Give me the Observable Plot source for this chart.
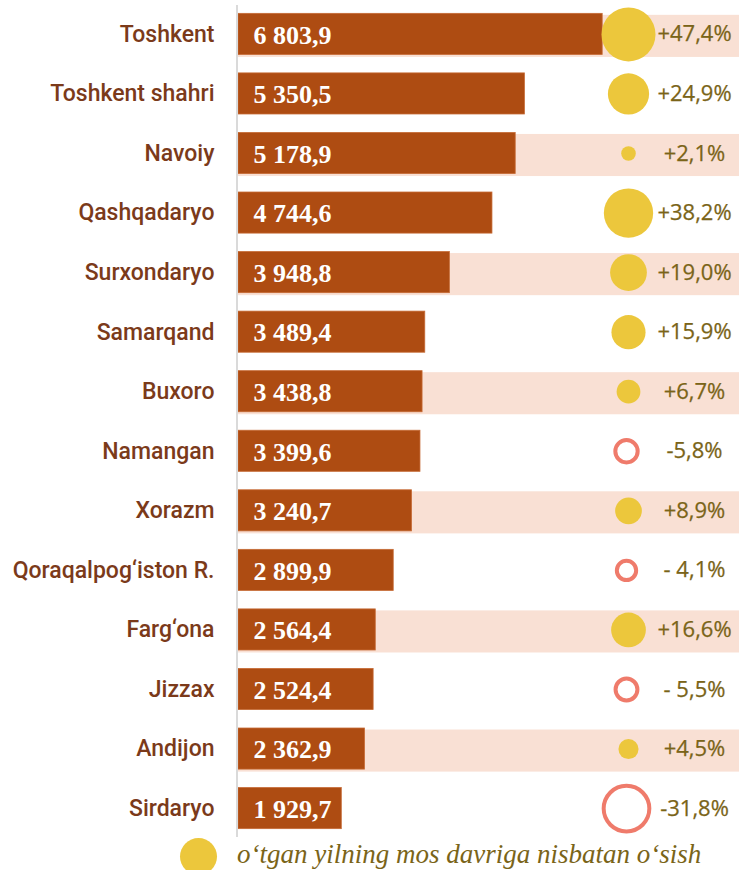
<!DOCTYPE html>
<html>
<head>
<meta charset="utf-8">
<script src="https://cdn.jsdelivr.net/npm/d3@7"></script>
<script src="https://cdn.jsdelivr.net/npm/@observablehq/plot@0.6"></script>
<style>
  html, body { margin: 0; padding: 0; background: #ffffff; }
  #wrap { position: relative; width: 739px; height: 870px; overflow: hidden; }
  #chart svg { display: block; }
  #legend { position: absolute; left: 0; top: 836px; width: 739px; height: 40px; }
  #legend .dot { position: absolute; left: 180px; top: 2px; width: 37px; height: 37px; border-radius: 50%; background: #ecc73c; }
  #legend .txt { position: absolute; left: 237px; top: 2px; font-family: "Liberation Serif", serif; font-style: italic; font-size: 27px; line-height: 32px; color: #7a6418; white-space: nowrap; }
</style>
</head>
<body>
<div id="wrap">
  <div id="chart"></div>
  <div id="legend"><span class="dot"></span><span class="txt">o‘tgan yilning mos davriga nisbatan o‘sish</span></div>
</div>
<script>
const regions = ["Toshkent", "Toshkent shahri", "Navoiy", "Qashqadaryo", "Surxondaryo", "Samarqand", "Buxoro", "Namangan", "Xorazm", "Qoraqalpog‘iston R.", "Farg‘ona", "Jizzax", "Andijon", "Sirdaryo"];
const values = [6803.9, 5350.5, 5178.9, 4744.6, 3948.8, 3489.4, 3438.8, 3399.6, 3240.7, 2899.9, 2564.4, 2524.4, 2362.9, 1929.7];
const growth = [47.4, 24.9, 2.1, 38.2, 19.0, 15.9, 6.7, -5.8, 8.9, -4.1, 16.6, -5.5, 4.5, -31.8];
const growthLabels = ["+47,4%", "+24,9%", "+2,1%", "+38,2%", "+19,0%", "+15,9%", "+6,7%", "-5,8%", "+8,9%", "- 4,1%", "+16,6%", "- 5,5%", "+4,5%", "-31,8%"];

const xMax = 9360;
const fmt = d3.formatLocale({decimal: ",", thousands: " ", grouping: [3]}).format(",.1f");

const rows = regions.map((name, i) => ({
  name, value: values[i], growth: growth[i], label: growthLabels[i], stripe: i % 2 === 0
}));

const chart = Plot.plot({
  width: 739,
  height: 840,
  marginLeft: 238,
  marginRight: 0,
  marginTop: 5,
  marginBottom: 3,
  x: {domain: [0, xMax], axis: null},
  y: {domain: regions, axis: null, paddingInner: 0.31, paddingOuter: 0.14, round: false},
  r: {type: "pow", exponent: 0.42, domain: [0, 47.4], range: [0, 27]},
  marks: [
    Plot.barX(rows.filter(d => d.stripe), {x1: 0, x2: xMax, y: "name", fill: "#f9e0d4", dy: 1.5, insetBottom: -1}),
    Plot.barX(rows, {x: "value", y: "name", fill: "#ae4c12", stroke: "#c66a35", strokeWidth: 0.8}),
    Plot.ruleX([0], {stroke: "#dadada", strokeWidth: 2, dx: -1.5}),
    Plot.text(rows, {x: 0, y: "name", text: "name", textAnchor: "end", dx: -24, fontSize: 23, fontWeight: 500, fill: "#7b3a1a", fontFamily: "Roboto"}),
    Plot.text(rows, {x: 0, y: "name", text: d => fmt(d.value), textAnchor: "start", dx: 15, dy: 1, fill: "#ffffff", fontSize: 26, fontWeight: "bold", fontFamily: "Liberation Serif"}),
    Plot.dot(rows.filter(d => d.growth >= 0), {y: "name", r: d => d.growth, frameAnchor: "right", dx: -111, fill: "#ecc73c"}),
    Plot.dot(rows.filter(d => d.growth < 0), {y: "name", r: d => -d.growth, frameAnchor: "right", dx: -113, stroke: "#ef7b6b", strokeWidth: 4, fill: "none"}),
    Plot.text(rows, {y: "name", text: "label", frameAnchor: "right", dx: -45, textAnchor: "middle", fontSize: 22, fill: "#7a6418", stroke: "#7a6418", strokeWidth: 0.25, fontFamily: "Open Sans"})
  ]
});
document.getElementById("chart").appendChild(chart);
</script>
</body>
</html>
